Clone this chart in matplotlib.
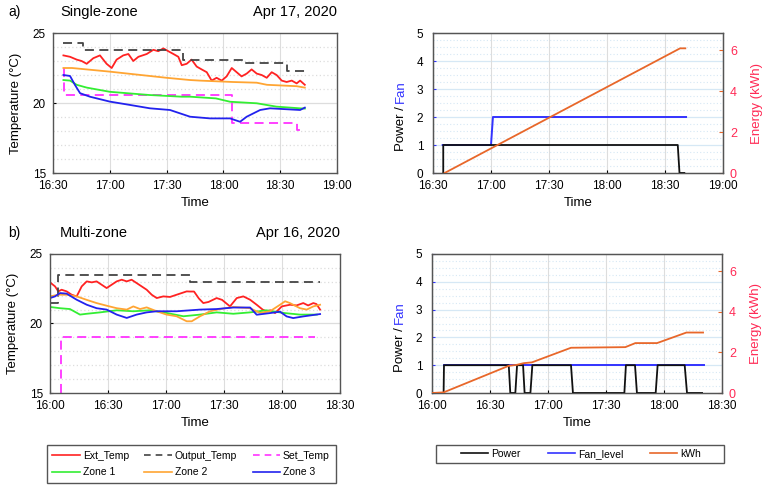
import numpy as np
import matplotlib
matplotlib.use("Agg")
import matplotlib.pyplot as plt
from matplotlib.ticker import FuncFormatter, MultipleLocator
from matplotlib.lines import Line2D
from matplotlib.patches import Rectangle

plt.rcParams['font.family'] = ['Liberation Sans', 'DejaVu Sans']

# ---- data: time in minutes after 16:00 ----
# a) single-zone, Apr 17 2020
a_ext_t = [35.5, 39, 42.5, 45.1, 47.8, 51.3, 54.8, 58.3, 61, 63.6, 67.1, 69.8, 72.4, 75.1, 79.5, 83,
           85.6, 88.3, 90.9, 93.6, 96.2, 98, 100.6, 103.2, 105.9, 108.5, 111.2, 113.8, 116.4, 119.1,
           121.7, 124.4, 127, 129.6, 132.3, 134.9, 137.6, 140.2, 142.9, 145.5, 148.1, 150.8, 153.4,
           156.1, 158.7, 160.5, 163]
a_ext_v = [23.4, 23.3, 23.1, 23.0, 22.8, 23.2, 23.4, 22.8, 22.5, 23.1, 23.4, 23.5, 23.0, 23.3, 23.5, 23.8,
           23.7, 23.9, 23.7, 23.5, 23.3, 22.7, 22.8, 23.1, 22.6, 22.4, 22.2, 21.6, 21.8, 21.6,
           21.9, 22.5, 22.2, 21.9, 22.1, 22.4, 22.1, 22.0, 21.8, 22.2, 22.0, 21.6, 21.5,
           21.6, 21.4, 21.6, 21.3]
a_out_t = [35.5, 45.8, 45.8, 98.7, 98.7, 131.4, 131.4, 153.6, 153.6, 163]
a_out_v = [24.3, 24.3, 23.75, 23.75, 23.05, 23.05, 22.85, 22.85, 22.3, 22.3]
a_set_t = [36, 36, 124.4, 124.4, 158.7, 158.7, 163]
a_set_v = [22.5, 20.55, 20.55, 18.55, 18.55, 18.05, 18.05]
a_z1_t = [35.5, 39, 42.5, 47.8, 60, 81, 98, 102.4, 116, 123.5, 137.6, 148, 160.5, 163]
a_z1_v = [21.64, 21.6, 21.3, 21.1, 20.8, 20.57, 20.45, 20.45, 20.33, 20.09, 19.98, 19.74, 19.62, 19.6]
a_z2_t = [35.5, 40, 60, 90, 102.4, 107.6, 125, 137.6, 143, 158.7, 163]
a_z2_v = [22.5, 22.5, 22.24, 21.8, 21.64, 21.6, 21.5, 21.45, 21.3, 21.2, 21.1]
a_z3_t = [35.5, 39, 41.6, 44.3, 49.5, 60, 70.7, 81.2, 91.8, 102.4, 113, 123.5, 128.8, 132.3,
          139.4, 144.6, 160.5, 163]
a_z3_v = [22.0, 21.93, 21.29, 20.7, 20.45, 20.1, 19.86, 19.62, 19.5, 19.02, 18.9, 18.9, 18.66, 19.02,
          19.5, 19.62, 19.5, 19.67]

a_pow_t = [35.3, 35.3, 156.6, 157.5, 160]
a_pow_v = [0, 1, 1, 0, 0]
a_fan_t = [35, 60, 61, 160.9]
a_fan_v = [1, 1, 2, 2]
a_kwh_t = [36, 157.8, 160.5]
a_kwh_v = [0, 6.1, 6.1]

# b) multi-zone, Apr 16 2020
b_ext_t = [0, 2.6, 4.3, 6.0, 8.6, 11.2, 13.8, 16.4, 19.0, 21.6, 24.1, 26.7, 29.3, 31.9, 34.5, 37.1,
           39.7, 42.2, 44.8, 47.4, 50.0, 52.6, 55.2, 58.6, 62.1, 65.5, 68.1, 70.7, 72.4, 74.5, 77,
           79.3, 82, 86.2, 89, 93.1, 96.6, 100, 103.5, 106.9, 110, 112.1, 114, 116.4, 119.9, 124.2,
           127.5, 131, 133.5, 136.2, 137.8, 139.7]
b_ext_v = [22.96, 22.67, 22.31, 22.43, 22.31, 22.07, 21.95, 22.67, 23.03, 22.96, 23.03, 22.79, 22.55,
           22.79, 23.03, 23.15, 23.03, 23.15, 22.91, 22.67, 22.43, 22.07, 21.83, 21.95, 21.91, 22.07,
           22.19, 22.31, 22.3, 22.3, 21.8, 21.47, 21.55, 21.83, 21.7, 21.23, 21.83, 21.95, 21.71,
           21.35, 21.0, 20.87, 20.95, 20.75, 21.23, 21.35, 21.3, 21.47, 21.3, 21.47, 21.4, 21.0]
b_out_t = [0, 4.3, 4.3, 72.4, 72.4, 139.7]
b_out_v = [21.5, 21.5, 23.5, 23.5, 23.0, 23.0]
b_set_t = [5.5, 5.5, 137]
b_set_v = [15, 19, 19]
b_z1_t = [0, 5.2, 10.3, 15.5, 19, 25.9, 34.5, 43.1, 51.7, 60.3, 69, 77.6, 86.2, 94.8, 103.5, 112,
          120.7, 129.3, 138]
b_z1_v = [21.19, 21.1, 21.04, 20.64, 20.7, 20.8, 20.95, 20.88, 20.95, 20.76, 20.52, 20.64, 20.8,
          20.7, 20.8, 20.95, 20.76, 20.64, 20.64]
b_z2_t = [0, 4.3, 8.6, 13.8, 19, 24.1, 29.3, 34.5, 39.7, 43.1, 46.6, 50, 55.2, 60.3, 65.5, 70.7,
          73.3, 77.6, 82.8, 88, 94.8, 103.5, 108.6, 113.8, 119, 121.6, 124.1, 129.3, 132.8, 136.2,
          139.7]
b_z2_v = [21.95, 22.07, 22.07, 21.95, 21.7, 21.47, 21.28, 21.1, 21.0, 21.23, 21.04, 21.16, 20.88,
          20.64, 20.52, 20.16, 20.16, 20.52, 20.88, 21.04, 21.19, 21.1, 20.76, 20.88, 21.35, 21.6,
          21.47, 21.1, 21.0, 21.23, 21.35]
b_z3_t = [0, 2.6, 5.2, 8.6, 13.8, 19, 24.1, 29.3, 34.5, 39.7, 44.8, 50, 55.2, 65.5, 77.6, 86.2,
          94.8, 103.5, 106.9, 113.8, 119, 122.4, 125.8, 131, 139.7]
b_z3_v = [21.83, 21.95, 22.19, 22.15, 21.71, 21.35, 21.1, 21.0, 20.64, 20.4, 20.64, 20.8, 20.88,
          20.88, 21.0, 21.04, 21.15, 21.15, 20.63, 20.75, 20.85, 20.51, 20.39, 20.51, 20.68]

b_pow_t = [0, 6, 6.2, 39.7, 40.5, 43.1, 44, 47.1, 47.9, 50.9, 51.9, 71.9, 72.9, 99.5, 100.3, 105,
           106, 115.7, 116.7, 130.7, 131.9, 139.7]
b_pow_v = [0, 0, 1, 1, 0, 0, 1, 1, 0, 0, 1, 1, 0, 0, 1, 1, 0, 0, 1, 1, 0, 0]
b_fan_t = [6, 140.5]
b_fan_v = [1, 1]
b_kwh_t = [0, 6, 39.7, 44, 47.4, 51.7, 71.9, 100, 105.2, 116.4, 131.6, 140.2]
b_kwh_v = [0, 0.03, 1.34, 1.39, 1.47, 1.51, 2.23, 2.26, 2.46, 2.46, 2.98, 2.98]

# ---- styling ----
C_EXT, C_OUT, C_SET = '#ff2222', '#444444', '#ff33ff'
C_Z1, C_Z2, C_Z3 = '#33ee33', '#ffa533', '#2222ee'
C_POW, C_FAN, C_KWH, C_EN = '#111111', '#3333ff', '#e8672a', '#ff2a55'
GRID = '#dddddd'
GRIDB = '#d6e8f5'
LW = 1.3

W, H = 769, 490
fig = plt.figure(figsize=(W / 100, H / 100), dpi=100)


def box(l, r, t, b):
    return [l / W, 1 - b / H, (r - l) / W, (b - t) / H]


def hhmm(x, pos):
    m = int(round(x))
    return f"{16 + m // 60}:{m % 60:02d}"


def style_time(ax, x0, x1):
    ax.set_xlim(x0, x1)
    ax.xaxis.set_major_locator(MultipleLocator(30))
    ax.xaxis.set_major_formatter(FuncFormatter(hhmm))
    ax.set_xlabel("Time", fontsize=9.5, labelpad=4)
    ax.tick_params(axis='x', labelsize=8.5, length=2, direction='in', pad=5)
    ax.tick_params(axis='y', labelsize=8.5, length=2, direction='in', pad=7)
    ax.grid(axis='x', color=GRID, lw=0.8)
    for s in ax.spines.values():
        s.set_color('#555555')
        s.set_linewidth(1.0)


def temp_panel(ax, x0, x1, ext, out, sett, z1, z2, z3):
    style_time(ax, x0, x1)
    ax.set_ylim(15, 25)
    ax.set_yticks([15, 20, 25])
    ax.tick_params(axis='y', pad=5)
    for v in [16, 17, 18, 19, 21, 22, 23, 24]:
        ax.axhline(v, color=GRID, lw=0.9, ls=(0, (1, 2)), zorder=0)
    ax.axhline(20, color=GRID, lw=0.9, zorder=0)
    ax.set_ylabel("Temperature (°C)", fontsize=9.5, labelpad=8)
    ax.plot(*ext, color=C_EXT, lw=LW)
    ax.plot(*out, color=C_OUT, lw=LW, ls=(0, (5, 3)))
    ax.plot(*sett, color=C_SET, lw=LW, ls=(0, (5, 3)))
    ax.plot(*z1, color=C_Z1, lw=LW)
    ax.plot(*z2, color=C_Z2, lw=LW)
    ax.plot(*z3, color=C_Z3, lw=LW)


def power_panel(ax, x0, x1, pw, fan, kwh):
    style_time(ax, x0, x1)
    ax.set_ylim(0, 5)
    ax.set_yticks(range(6))
    ax.tick_params(axis='y', colors=C_FAN, labelcolor='black')
    for v in np.arange(0.25, 5, 0.25):
        if v % 1:
            ax.axhline(v, color=GRIDB, lw=0.8, ls=(0, (1, 2)), zorder=0)
        else:
            ax.axhline(v, color=GRIDB, lw=0.9, zorder=0)
    ax.plot(*pw, color=C_POW, lw=LW, zorder=3)
    ax.plot(*fan, color=C_FAN, lw=1.4, zorder=2)
    ax2 = ax.twinx()
    ax2.set_ylim(0, 6.85)
    ax2.set_yticks([0, 2, 4, 6])
    ax2.tick_params(axis='y', colors=C_KWH, labelcolor=C_EN, labelsize=9, length=3,
                    direction='in', pad=5)
    ax2.plot(*kwh, color=C_KWH, lw=LW, zorder=4)
    ax2.set_ylabel("Energy (kWh)", fontsize=9.5, color=C_EN, labelpad=10)
    for s in ax2.spines.values():
        s.set_color('#555555')
    ax.text(-0.11, 0.5, "Power / ", transform=ax.transAxes, rotation=90, fontsize=9.5,
            ha='center', va='top', color='black')
    ax.text(-0.11, 0.5, "Fan", transform=ax.transAxes, rotation=90, fontsize=9.5,
            ha='center', va='bottom', color=C_FAN)


ax_a = fig.add_axes(box(53, 337, 33, 173))
temp_panel(ax_a, 30, 180, (a_ext_t, a_ext_v), (a_out_t, a_out_v), (a_set_t, a_set_v),
           (a_z1_t, a_z1_v), (a_z2_t, a_z2_v), (a_z3_t, a_z3_v))
ax_b = fig.add_axes(box(50, 340, 254, 393))
temp_panel(ax_b, 0, 150, (b_ext_t, b_ext_v), (b_out_t, b_out_v), (b_set_t, b_set_v),
           (b_z1_t, b_z1_v), (b_z2_t, b_z2_v), (b_z3_t, b_z3_v))
ax_c = fig.add_axes(box(433, 723, 33, 173))
power_panel(ax_c, 30, 180, (a_pow_t, a_pow_v), (a_fan_t, a_fan_v), (a_kwh_t, a_kwh_v))
ax_d = fig.add_axes(box(432, 722, 254, 393))
power_panel(ax_d, 0, 150, (b_pow_t, b_pow_v), (b_fan_t, b_fan_v), (b_kwh_t, b_kwh_v))

# panel titles
fig.text(8 / W, 1 - 12 / H, "a)", fontsize=10, va='center')
fig.text(60 / W, 1 - 12 / H, "Single-zone", fontsize=10.5, va='center')
fig.text(337 / W, 1 - 12 / H, "Apr 17, 2020", fontsize=10.5, va='center', ha='right')
fig.text(8 / W, 1 - 233 / H, "b)", fontsize=10, va='center')
fig.text(60 / W, 1 - 233 / H, "Multi-zone", fontsize=10.5, va='center')
fig.text(340 / W, 1 - 233 / H, "Apr 16, 2020", fontsize=10.5, va='center', ha='right')

# legend frames drawn by hand
for (l, t, r, b) in [(47, 445, 336, 483), (436, 445, 724, 463)]:
    fig.patches.append(Rectangle((l / W, 1 - b / H), (r - l) / W, (b - t) / H,
                                 transform=fig.transFigure, fill=False,
                                 edgecolor='#555555', lw=1.0))

h_left = [Line2D([], [], color=C_EXT, lw=1.2), Line2D([], [], color=C_Z1, lw=1.2),
          Line2D([], [], color=C_OUT, lw=1.2, ls=(0, (4, 3))), Line2D([], [], color=C_Z2, lw=1.2),
          Line2D([], [], color=C_SET, lw=1.2, ls=(0, (4, 3))), Line2D([], [], color=C_Z3, lw=1.2)]
l_left = ["Ext_Temp", "Zone 1", "Output_Temp", "Zone 2", "Set_Temp", "Zone 3"]
fig.legend(h_left, l_left, ncol=3, fontsize=7.5, loc='center',
           bbox_to_anchor=(191 / W, 1 - 464 / H), frameon=False, handlelength=2.6,
           handletextpad=0.3, labelspacing=0.65, columnspacing=1.5, borderaxespad=0)
h_right = [Line2D([], [], color=C_POW, lw=1.2), Line2D([], [], color=C_FAN, lw=1.2),
           Line2D([], [], color=C_KWH, lw=1.2)]
fig.legend(h_right, ["Power", "Fan_level", "kWh"], ncol=3, fontsize=7.5,
           loc='center', bbox_to_anchor=(581 / W, 1 - 454 / H), frameon=False,
           handlelength=2.6, handletextpad=0.3, columnspacing=2.6, borderaxespad=0)

fig.savefig("out.png", dpi=100)
